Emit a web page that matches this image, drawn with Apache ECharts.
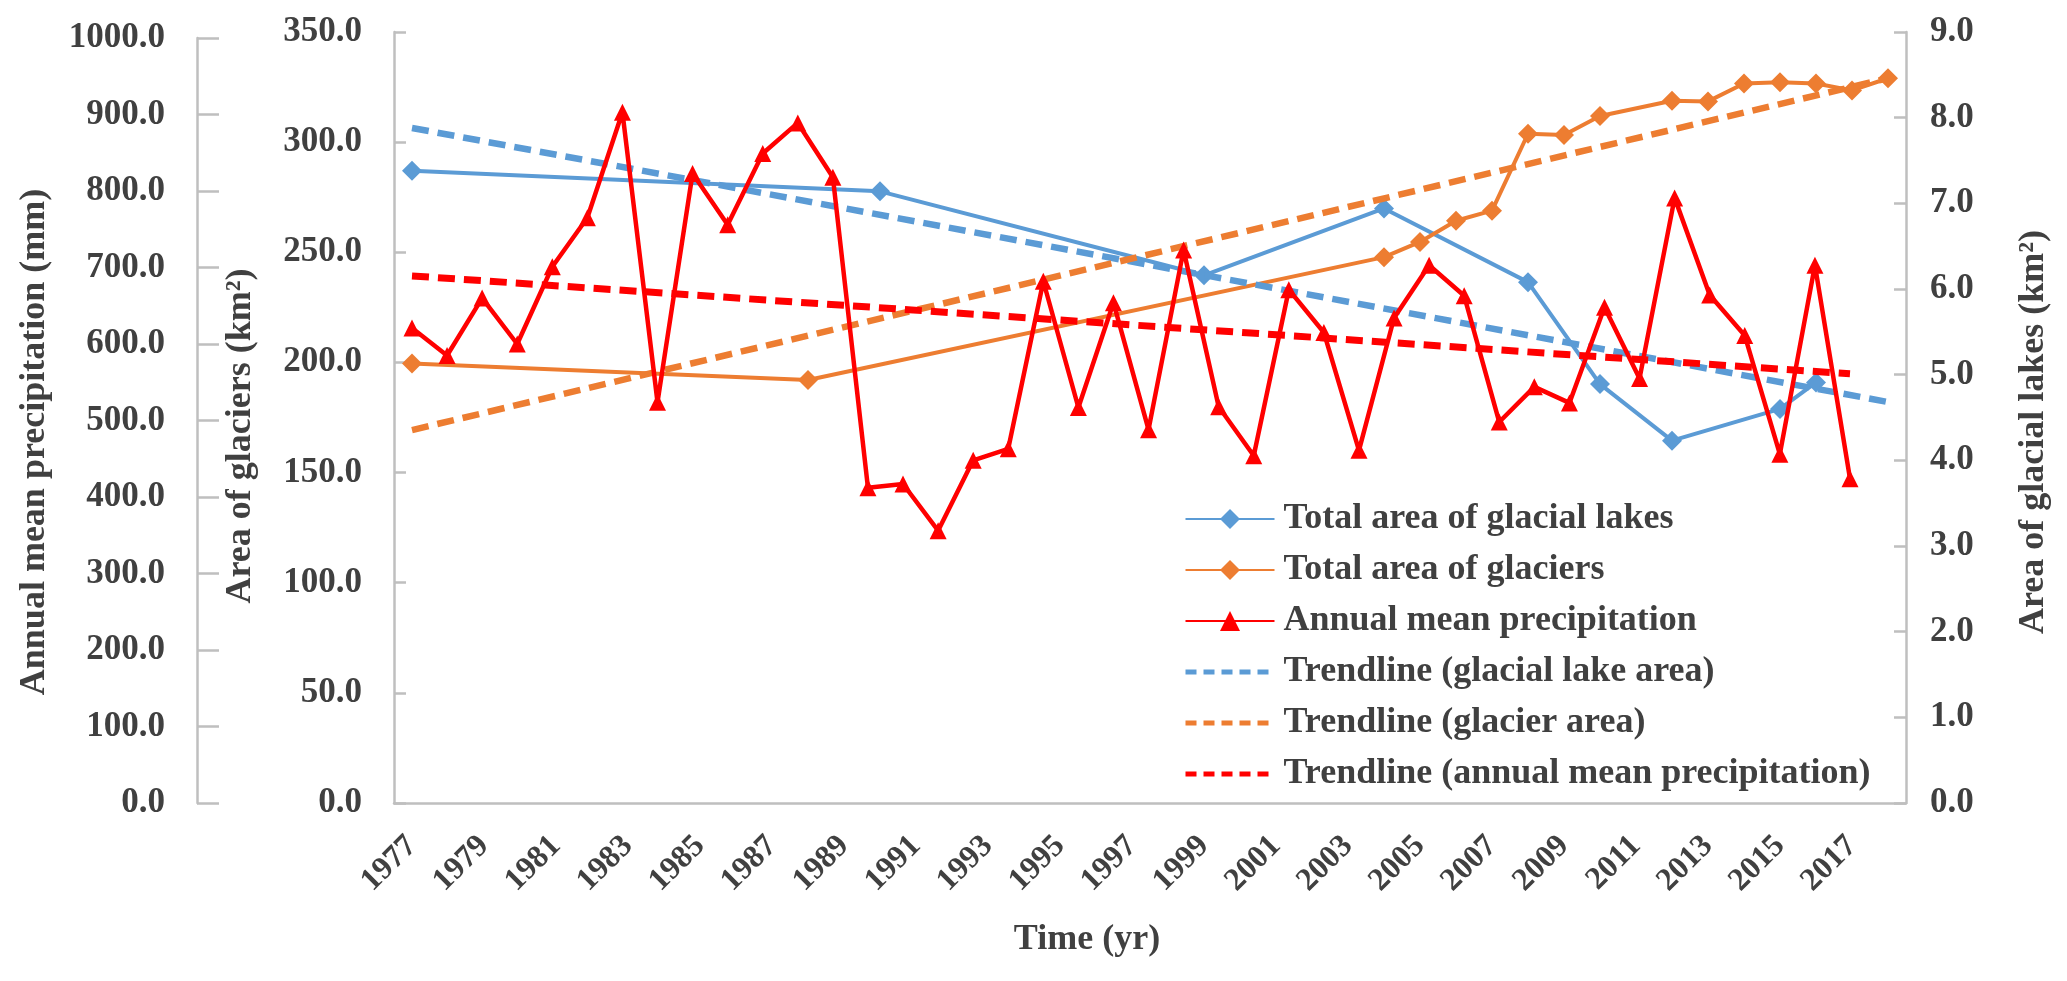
<!DOCTYPE html>
<html>
<head>
<meta charset="utf-8">
<script src="https://cdn.jsdelivr.net/npm/echarts@6/dist/echarts.min.js"></script>
<style>
html,body{margin:0;padding:0;background:#ffffff;}
#c{width:2067px;height:981px;}
</style>
</head>
<body>
<div id="c"></div>
<script>
// ---- categories ----
const years = ['1977','1978','1979','1980','1981','1982','1983','1984','1985','1986','1987','1988','1989','1990','1991','1992','1993','1994','1995','1996','1997','1998','1999','2000','2001','2002','2003','2004','2005','2006','2007','2008','2009','2010','2011','2012','2013','2014','2015','2016','2017','2018'];

// ---- Total area of glacial lakes (km², right axis) ----
const lakeYears = ['1977','1990','1999','2004','2008','2010','2012','2015','2016'];
const lakeArea  = [7.38, 7.14, 6.16, 6.94, 6.08, 4.89, 4.23, 4.60, 4.91];

// ---- Total area of glaciers (km², inner left axis) ----
const glacierYears = ['1977','1988','2004','2005','2006','2007','2008','2009','2010','2012','2013','2014','2015','2016','2017','2018'];
const glacierArea  = [199.5, 192.0, 247.8, 254.7, 264.3, 268.9, 303.8, 303.2, 311.9, 318.8, 318.5, 326.6, 327.2, 326.6, 323.5, 329.0];

// ---- Annual mean precipitation (mm, outer left axis) ----
const precipYears = ['1977','1978','1979','1980','1981','1982','1983','1984','1985','1986','1987','1988','1989','1990','1991','1992','1993','1994','1995','1996','1997','1998','1999','2000','2001','2002','2003','2004','2005','2006','2007','2008','2009','2010','2011','2012','2013','2014','2015','2016','2017','2018'];
const precip = [621, 585, 660, 600, 701, 765, 903, 524, 823, 756, 849, 889, 818, 412, 417, 356, 448, 463, 682, 517, 654, 488, 723, 518, 454, 671, 615, 461, 634, 703, 663, 498, 544, 523, 648, 555, 791, 664, 611, 456, 703, 424];

// ---- trendline end values (start, end) ----
const lakeTrend    = [7.88, 4.68];
const glacierTrend = [169.3, 329.0];
const precipTrend  = [689, 561];

// ---- axis ticks ----
const glacierAxis = {min: 0, max: 350, interval: 50};
const lakeAxis    = {min: 0, max: 9, interval: 1};
const precipAxis  = {min: 0, max: 1000, interval: 100};

const FONT = '"Liberation Serif","Times New Roman",serif';
const TXT = '#404040';
const AX = '#bfbfbf';
const BLUE = '#5b9bd5', ORANGE = '#ed7d31', RED = '#ff0000';

function pairs(xs, ys) { return xs.map((x, i) => [x, ys[i]]); }

const labelStyle = {color: TXT, fontFamily: FONT, fontWeight: 'bold', fontSize: 35};
const titleFont = 'bold 36px "Liberation Serif","Times New Roman",serif';

const chart = echarts.init(document.getElementById('c'));
chart.setOption({
  animation: false,
  backgroundColor: '#ffffff',
  grid: [
    {left: 394, right: 161, top: 32, bottom: 178},
    {left: 412, right: 217, top: 38, bottom: 178}
  ],
  xAxis: [
    {
      type: 'category', gridIndex: 0, data: years, boundaryGap: true,
      axisLine: {lineStyle: {color: AX, width: 2.5}},
      axisTick: {inside: true, length: 10, interval: 0, lineStyle: {color: AX, width: 2.5}},
      axisLabel: {interval: 1, rotate: 45, margin: 38, color: TXT, fontFamily: FONT, fontWeight: 'bold', fontSize: 32},
      splitLine: {show: false}
    },
    {
      type: 'category', gridIndex: 1, data: precipYears, boundaryGap: false, show: false
    }
  ],
  yAxis: [
    {
      type: 'value', gridIndex: 0, position: 'left',
      min: glacierAxis.min, max: glacierAxis.max, interval: glacierAxis.interval,
      axisLine: {show: true, lineStyle: {color: AX, width: 2.5}},
      axisTick: {show: true, inside: true, length: 12, lineStyle: {color: AX, width: 2.5}},
      axisLabel: Object.assign({margin: 32, formatter: v => v.toFixed(1)}, labelStyle),
      splitLine: {show: false}
    },
    {
      type: 'value', gridIndex: 0, position: 'right',
      min: lakeAxis.min, max: lakeAxis.max, interval: lakeAxis.interval,
      axisLine: {show: true, lineStyle: {color: AX, width: 2.5}},
      axisTick: {show: true, inside: true, length: 12, lineStyle: {color: AX, width: 2.5}},
      axisLabel: Object.assign({margin: 24, formatter: v => v.toFixed(1)}, labelStyle),
      splitLine: {show: false}
    },
    {
      type: 'value', gridIndex: 1, position: 'left', offset: 215,
      min: precipAxis.min, max: precipAxis.max, interval: precipAxis.interval,
      axisLine: {show: true, lineStyle: {color: AX, width: 2.5}},
      axisTick: {show: true, inside: true, length: 22, lineStyle: {color: AX, width: 2.5}},
      axisLabel: Object.assign({margin: 32, formatter: v => v.toFixed(1)}, labelStyle),
      splitLine: {show: false}
    }
  ],
  legend: {
    orient: 'vertical', left: 1178, top: 493,
    itemWidth: 89, itemHeight: 25, itemGap: 9,
    textStyle: {color: TXT, fontFamily: FONT, fontWeight: 'bold', fontSize: 36, lineHeight: 42, padding: [0, 0, 0, 4]},
    data: [
      {name: 'Total area of glacial lakes'},
      {name: 'Total area of glaciers'},
      {name: 'Annual mean precipitation'},
      {name: 'Trendline (glacial lake area)', lineStyle: {type: [11, 7], width: 5}, itemStyle: {opacity: 0}},
      {name: 'Trendline (glacier area)', lineStyle: {type: [11, 7], width: 5}, itemStyle: {opacity: 0}},
      {name: 'Trendline (annual mean precipitation)', lineStyle: {type: [11, 7], width: 5}, itemStyle: {opacity: 0}}
    ]
  },
  graphic: [
    {type: 'text', x: 35, y: 442, rotation: Math.PI / 2, silent: true,
     style: {text: 'Annual mean precipitation (mm)', font: titleFont, fill: TXT, align: 'center', verticalAlign: 'middle', textAlign: 'center', textVerticalAlign: 'middle'}},
    {type: 'text', x: 241, y: 436, rotation: Math.PI / 2, silent: true,
     style: {text: 'Area of glaciers (km²)', font: titleFont, fill: TXT, align: 'center', verticalAlign: 'middle', textAlign: 'center', textVerticalAlign: 'middle'}},
    {type: 'text', x: 2034, y: 432, rotation: Math.PI / 2, silent: true,
     style: {text: 'Area of glacial lakes (km²)', font: titleFont, fill: TXT, align: 'center', verticalAlign: 'middle', textAlign: 'center', textVerticalAlign: 'middle'}},
    {type: 'text', x: 1087, y: 940, silent: true,
     style: {text: 'Time (yr)', font: titleFont, fill: TXT, align: 'center', verticalAlign: 'middle', textAlign: 'center', textVerticalAlign: 'middle'}}
  ],
  series: [
    {
      name: 'Total area of glacial lakes', type: 'line', xAxisIndex: 0, yAxisIndex: 1,
      data: pairs(lakeYears, lakeArea),
      symbol: 'diamond', symbolSize: 20, color: BLUE,
      lineStyle: {color: BLUE, width: 4}, itemStyle: {color: BLUE}, z: 3
    },
    {
      name: 'Total area of glaciers', type: 'line', xAxisIndex: 0, yAxisIndex: 0,
      data: pairs(glacierYears, glacierArea),
      symbol: 'diamond', symbolSize: 20, color: ORANGE,
      lineStyle: {color: ORANGE, width: 4}, itemStyle: {color: ORANGE}, z: 3
    },
    {
      name: 'Annual mean precipitation', type: 'line', xAxisIndex: 1, yAxisIndex: 2,
      data: precip,
      symbol: 'triangle', symbolSize: 17, color: RED,
      lineStyle: {color: RED, width: 4.5}, itemStyle: {color: RED}, z: 5
    },
    {
      name: 'Trendline (glacial lake area)', type: 'line', xAxisIndex: 0, yAxisIndex: 1,
      data: [[years[0], lakeTrend[0]], [years[years.length - 1], lakeTrend[1]]],
      symbol: 'none', color: BLUE,
      lineStyle: {color: BLUE, width: 6.5, type: [17, 9]}, z: 4
    },
    {
      name: 'Trendline (glacier area)', type: 'line', xAxisIndex: 0, yAxisIndex: 0,
      data: [[years[0], glacierTrend[0]], [years[years.length - 1], glacierTrend[1]]],
      symbol: 'none', color: ORANGE,
      lineStyle: {color: ORANGE, width: 6.5, type: [17, 9]}, z: 4
    },
    {
      name: 'Trendline (annual mean precipitation)', type: 'line', xAxisIndex: 1, yAxisIndex: 2,
      data: [[precipYears[0], precipTrend[0]], [precipYears[precipYears.length - 1], precipTrend[1]]],
      symbol: 'none', color: RED,
      lineStyle: {color: RED, width: 7, type: [17, 9]}, z: 4
    }
  ]
});
</script>
</body>
</html>
